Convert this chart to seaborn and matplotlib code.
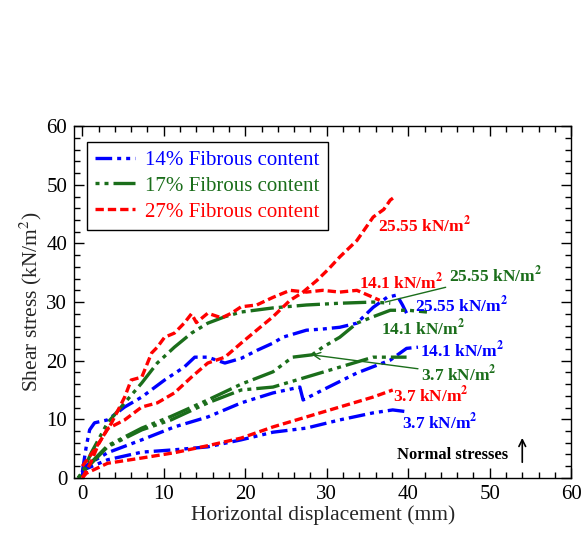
import matplotlib
matplotlib.use("Agg")
import matplotlib.pyplot as plt
import seaborn as sns
import pandas as pd

# ---- measured shear-stress curves: horizontal displacement (mm) vs shear stress (kN/m2)
# 14% fibrous content
b_hi_x = [0.0, 0.5, 0.9, 1.5, 3.1, 5.2, 7.3, 10.1, 12.5, 13.8, 15.4, 17.5, 19.5, 21.5, 23.4, 24.6, 27.5, 29.5, 31.6, 33.7, 35.7, 37.4, 38.6, 39.3, 39.8]
b_hi_y = [1.0, 5.5, 8.2, 9.4, 9.9, 12.1, 13.8, 16.7, 18.9, 20.6, 20.6, 19.6, 20.4, 21.8, 23.0, 24.0, 25.2, 25.4, 25.7, 26.4, 29.1, 30.8, 31.2, 29.5, 28.1]
b_mid_x = [0.0, 0.2, 3.1, 7.3, 11.3, 15.4, 19.5, 23.4, 26.7, 27.1, 29.5, 33.7, 37.8, 39.8, 41.2]
b_mid_y = [0.5, 1.9, 4.3, 6.5, 8.7, 10.4, 12.8, 14.5, 15.5, 13.3, 15.0, 17.9, 20.1, 22.1, 22.3]
b_lo_x = [0.0, 0.2, 3.1, 7.3, 11.3, 15.4, 19.5, 23.4, 27.5, 31.6, 35.7, 38.1, 39.8]
b_lo_y = [0.3, 1.4, 3.1, 4.4, 4.8, 5.3, 6.5, 7.8, 8.5, 9.9, 11.1, 11.6, 11.3]

# 17% fibrous content
g_hi_x = [-0.5, 0.0, 1.1, 3.1, 5.2, 7.3, 9.2, 11.3, 13.4, 15.4, 17.5, 19.5, 23.4, 27.5, 31.6, 35.7, 37.8]
g_hi_y = [0.0, 0.9, 4.3, 9.4, 12.8, 16.2, 19.6, 22.3, 24.7, 26.4, 27.5, 28.3, 29.0, 29.5, 29.8, 30.0, 29.8]
g_mid_x = [-0.5, 0.2, 3.1, 7.3, 10.9, 15.4, 19.5, 23.4, 25.8, 28.2, 29.5, 31.6, 33.7, 35.7, 37.8, 40.0, 42.3]
g_mid_y = [0.0, 1.4, 5.5, 8.5, 10.5, 13.3, 16.0, 18.1, 20.6, 21.0, 22.3, 24.0, 26.4, 27.5, 28.6, 28.6, 28.3]
g_lo_x = [-0.5, 0.2, 3.1, 7.3, 10.9, 15.4, 19.5, 23.4, 27.5, 31.6, 35.7, 39.8]
g_lo_y = [0.0, 1.2, 5.3, 8.2, 9.9, 12.8, 15.0, 15.5, 17.2, 18.9, 20.6, 20.6]

# 27% fibrous content
r_hi_x = [0.0, 1.0, 2.0, 3.1, 5.2, 7.3, 9.2, 11.3, 13.4, 15.4, 17.5, 19.5, 21.4, 23.4, 25.5, 27.0, 28.8, 30.2, 31.6, 33.7, 35.7, 37.0, 37.8, 38.2]
r_hi_y = [0.0, 2.5, 5.8, 8.4, 9.9, 12.1, 12.8, 14.5, 17.2, 19.6, 20.6, 23.0, 25.2, 27.5, 30.3, 31.6, 33.7, 35.6, 37.7, 40.5, 44.5, 45.8, 47.4, 47.8]
r_14_x = [0.0, 1.5, 3.6, 5.2, 6.0, 7.3, 8.5, 9.2, 10.1, 11.3, 12.5, 13.4, 14.0, 15.4, 17.1, 18.3, 19.5, 21.4, 23.4, 25.5, 27.5, 29.5, 31.6, 33.7, 35.7, 36.5]
r_14_y = [2.0, 4.8, 9.4, 13.8, 16.7, 17.2, 21.3, 22.3, 24.0, 24.7, 26.4, 28.0, 26.5, 28.1, 27.3, 28.1, 29.2, 29.5, 30.8, 32.0, 31.7, 32.0, 31.7, 32.0, 30.8, 30.3]
r_lo_x = [0.0, 0.5, 3.1, 7.3, 11.3, 15.4, 19.5, 23.4, 27.5, 31.6, 35.7, 38.1]
r_lo_y = [0.0, 0.8, 2.5, 3.4, 4.3, 5.5, 6.8, 8.7, 10.4, 12.1, 13.8, 15.0]

legend_labels = ["14% Fibrous content", "17% Fibrous content", "27% Fibrous content"]

BLUE, GREEN, RED = "#0000FF", "#1B6E1B", "#FF0000"
LS_BLUE = (0, (5, 1.5, 1.2, 1.5, 1.2, 1.5))
LS_GREEN = (0, (1.2, 1.5, 1.2, 1.5, 7, 1.5))
LS_RED = (0, (2.5, 1.2))

sns.set_theme(style="ticks")
plt.rcParams["font.family"] = ["Liberation Serif", "DejaVu Serif"]
plt.rcParams["mathtext.fontset"] = "stix"

fig = plt.figure(figsize=(5.84, 5.37), dpi=100)
ax = fig.add_axes([0.127, 0.110, 0.851, 0.655])

series = [
    (b_hi_x, b_hi_y, BLUE, LS_BLUE, legend_labels[0]),
    (b_mid_x, b_mid_y, BLUE, LS_BLUE, None),
    (b_lo_x, b_lo_y, BLUE, LS_BLUE, None),
    (g_hi_x, g_hi_y, GREEN, LS_GREEN, legend_labels[1]),
    (g_mid_x, g_mid_y, GREEN, LS_GREEN, None),
    (g_lo_x, g_lo_y, GREEN, LS_GREEN, None),
    (r_hi_x, r_hi_y, RED, LS_RED, legend_labels[2]),
    (r_14_x, r_14_y, RED, LS_RED, None),
    (r_lo_x, r_lo_y, RED, LS_RED, None),
]
for xs, ys, col, ls, lab in series:
    df = pd.DataFrame({"disp": xs, "tau": ys})
    sns.lineplot(data=df, x="disp", y="tau", ax=ax, color=col, linestyle=ls,
                 linewidth=2.4, sort=False, estimator=None, label=lab, legend=bool(lab))

ax.set_xlim(-1, 60)
ax.set_ylim(0, 60)
ax.set_xticks(range(0, 61, 10))
ax.set_yticks(range(0, 61, 10))
ax.xaxis.set_minor_locator(matplotlib.ticker.MultipleLocator(2))
ax.yaxis.set_minor_locator(matplotlib.ticker.MultipleLocator(2))
ax.tick_params(which="both", direction="in", top=True, right=True, colors="black",
               labelsize=15, width=1)
ax.tick_params(which="major", length=7, pad=5)
ax.tick_params(which="minor", length=4)
for s in ax.spines.values():
    s.set_color("black")
    s.set_linewidth(1)

ax.set_xlabel("Horizontal displacement (mm)", fontsize=15.5, labelpad=1)
ax.set_ylabel("Shear stress (kN/m$^2$)", fontsize=15.5, labelpad=2)

leg = ax.legend(loc="upper left", bbox_to_anchor=(0.026, 0.955), borderaxespad=0,
                fancybox=False, edgecolor="black", framealpha=1, fontsize=15,
                handlelength=1.9, handletextpad=0.5, labelspacing=0.3,
                borderpad=0.4, labelcolor="linecolor")
leg.get_frame().set_linewidth(1)

unit = r" kN/m$^{\mathbf{2}}$"
fkw = dict(fontsize=12.5, fontweight="bold")
ax.text(36.3, 43.1, "25.55" + unit, color=RED, va="center", **fkw)
ax.text(33.9, 33.4, "14.1" + unit, color=RED, va="center", **fkw)
ax.text(38.1, 14.1, "3.7" + unit, color=RED, va="center", **fkw)
ax.text(40.8, 29.5, "25.55" + unit, color=BLUE, va="center", **fkw)
ax.text(41.5, 21.8, "14.1" + unit, color=BLUE, va="center", **fkw)
ax.text(39.2, 9.5, "3.7" + unit, color=BLUE, va="center", **fkw)
ax.text(36.7, 25.6, "14.1" + unit, color=GREEN, va="center", **fkw)
ax.annotate("25.55" + unit, xy=(37.2, 30.0), xytext=(45.0, 34.6), color=GREEN,
            va="center", arrowprops=dict(arrowstyle="-", color=GREEN, lw=1, shrinkA=0, shrinkB=0),
            **fkw)
ax.annotate("3.7" + unit, xy=(28.2, 21.0), xytext=(41.6, 17.7), color=GREEN,
            va="center", arrowprops=dict(arrowstyle="->", color=GREEN, lw=1, shrinkA=0, shrinkB=0),
            **fkw)
ax.text(38.6, 3.9, "Normal stresses", color="black", va="center", fontsize=12, fontweight="bold")
ax.annotate("", xy=(54.0, 7.3), xytext=(54.0, 2.2),
            arrowprops=dict(arrowstyle="->", color="black", lw=1.2))

fig.savefig("out.png", dpi=100)
